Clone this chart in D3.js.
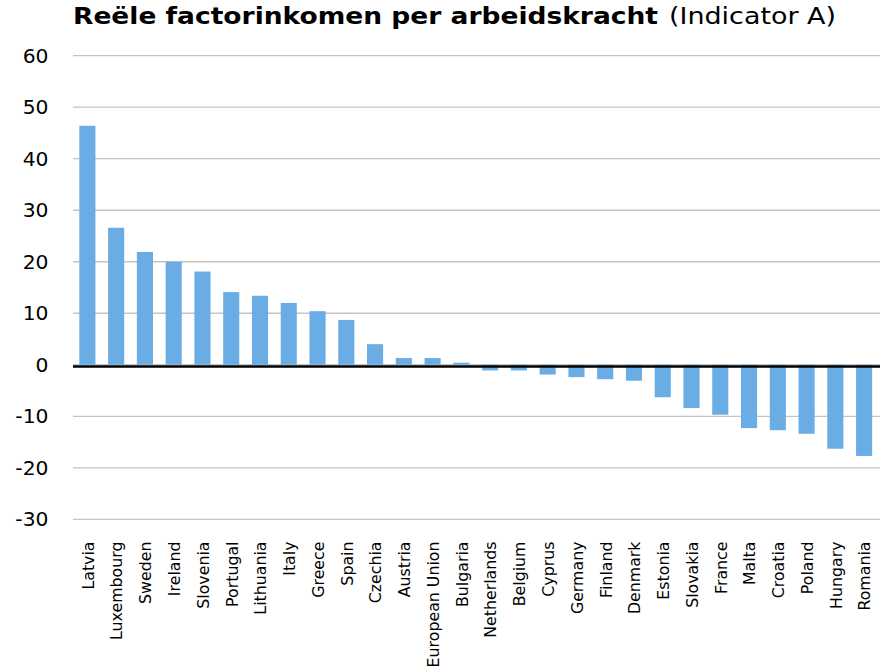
<!DOCTYPE html>
<html>
<head>
<meta charset="utf-8">
<script src="https://cdn.jsdelivr.net/npm/d3@7"></script>
<style>
  html, body { margin: 0; padding: 0; background: #fff; }
  svg { display: block; font-family: "DejaVu Sans", Verdana, sans-serif; }
</style>
</head>
<body>
<svg id="chart" width="880" height="668"></svg>
<script>
// Real factor income per worker, change by country
const countries = ["Latvia", "Luxembourg", "Sweden", "Ireland", "Slovenia", "Portugal",
  "Lithuania", "Italy", "Greece", "Spain", "Czechia", "Austria", "European Union",
  "Bulgaria", "Netherlands", "Belgium", "Cyprus", "Germany", "Finland", "Denmark",
  "Estonia", "Slovakia", "France", "Malta", "Croatia", "Poland", "Hungary", "Romania"];
const values = [46.4, 26.6, 21.9, 20.0, 18.1, 14.1, 13.4, 12.0, 10.4, 8.7, 4.0, 1.3, 1.3,
  0.4, -1.1, -1.1, -1.9, -2.4, -2.8, -3.1, -6.3, -8.4, -9.7, -12.3, -12.7, -13.4, -16.3, -17.7];
const yTicks = [-30, -20, -10, 0, 10, 20, 30, 40, 50, 60];

const svg = d3.select("#chart");
const plotLeft = 73, plotRight = 878.5, plotTop = 55.7, plotBottom = 519.3;

const x = d3.scaleBand().domain(countries).range([plotLeft, plotRight]).paddingInner(0.44).paddingOuter(0.22);
const y = d3.scaleLinear().domain([-30, 60]).range([plotBottom, plotTop]);

// Title: bold main part followed by the indicator name
svg.append("text").attr("x", 73).attr("y", 23.5)
  .attr("font-size", 23).attr("font-weight", "bold")
  .attr("textLength", 585).attr("lengthAdjust", "spacingAndGlyphs")
  .text("Reële factorinkomen per arbeidskracht");
svg.append("text").attr("x", 669).attr("y", 23.5)
  .attr("font-size", 23)
  .attr("textLength", 167).attr("lengthAdjust", "spacingAndGlyphs")
  .text("(Indicator A)");

// Gridlines
svg.append("g").selectAll("line").data(yTicks).join("line")
  .attr("x1", plotLeft).attr("x2", 880)
  .attr("y1", d => y(d)).attr("y2", d => y(d))
  .attr("stroke", "#c4c4c4").attr("stroke-width", 1.3);

// Y axis labels
const yAxis = svg.append("g").attr("transform", `translate(48.5,0)`)
  .call(d3.axisLeft(y).tickValues(yTicks).tickSize(0).tickPadding(0).tickFormat(d => String(d)));
yAxis.select(".domain").remove();
yAxis.selectAll("text").attr("font-size", 20.3).attr("font-family", "DejaVu Sans, sans-serif").attr("fill", "#000");

// Bars
svg.append("g").selectAll("rect").data(countries).join("rect")
  .attr("x", d => x(d))
  .attr("width", x.bandwidth())
  .attr("y", (d, i) => y(Math.max(0, values[i])))
  .attr("height", (d, i) => Math.abs(y(values[i]) - y(0)))
  .attr("fill", "#6aade4");

// Horizontal axis line
svg.append("line").attr("x1", plotLeft).attr("x2", 880)
  .attr("y1", y(0) + 1.8).attr("y2", y(0) + 1.8)
  .attr("stroke", "#000").attr("stroke-width", 2.5);

// Category labels, rotated
svg.append("g").selectAll("text").data(countries).join("text")
  .attr("transform", d => `translate(${x(d) + x.bandwidth() / 2 + 6.3},541.5) rotate(-90)`)
  .attr("text-anchor", "end")
  .attr("font-size", 15.8)
  .text(d => d);
</script>
</body>
</html>
